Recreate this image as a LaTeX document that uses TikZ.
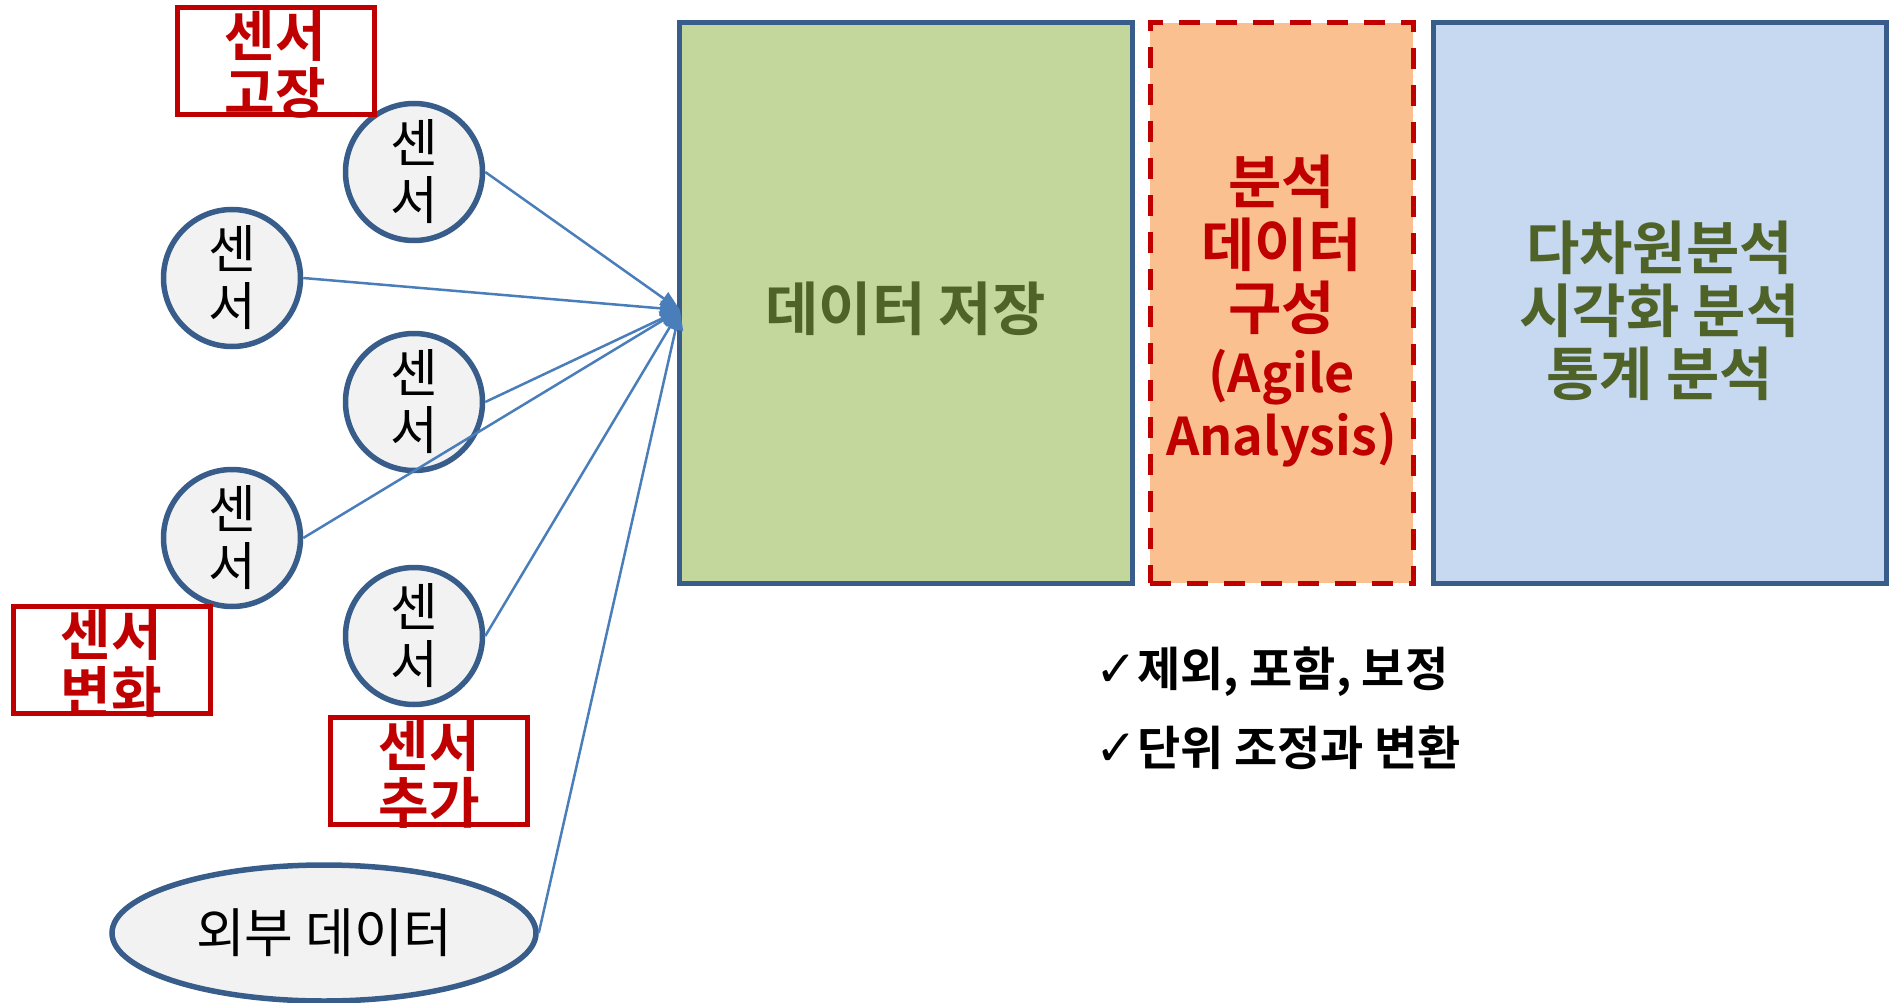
\documentclass[tikz,border=0pt]{standalone}
\usepackage{fontspec}
\setmainfont{Noto Sans CJK KR}[BoldFont={Noto Sans CJK KR Bold}]
\newfontfamily\djv{DejaVu Sans}
\usetikzlibrary{arrows.meta,shapes.geometric}
\definecolor{bordblue}{HTML}{385D8A}
\definecolor{linkblue}{HTML}{4A7EBB}
\definecolor{circfill}{HTML}{F2F2F2}
\definecolor{redtxt}{HTML}{C00000}
\definecolor{greentxt}{HTML}{4F6228}
\definecolor{greenfill}{HTML}{C3D69B}
\definecolor{orangefill}{HTML}{FAC090}
\definecolor{bluefill}{HTML}{C6D9F1}
\tikzset{
  sensor/.style={circle, draw=bordblue, fill=circfill, line width=5.5pt, minimum size=137pt, inner sep=0pt, align=center, font=\fontsize{52}{57}\selectfont},
  redbox/.style={rectangle, draw=redtxt, line width=5pt, minimum width=197pt, minimum height=107pt, inner sep=0pt},
  redtext/.style={align=center, text=redtxt, inner sep=0pt, font=\bfseries\fontsize{55}{57}\selectfont},
  bigbox/.style={rectangle, line width=5pt, minimum height=560pt, inner sep=0pt},
  bigtext/.style={align=center, inner sep=0pt, font=\bfseries\fontsize{58}{63}\selectfont},
  link/.style={draw=linkblue, line width=2.5pt, -{Triangle[length=20pt,width=15pt]}},
  checktxt/.style={anchor=west, inner sep=0pt, font=\bfseries\fontsize{47}{52}\selectfont},
}
\newcommand\chk{{\djv\mdseries\fontsize{50}{52}\selectfont ✓}}
\begin{document}
\begin{tikzpicture}[x=1pt,y=-1pt]
\useasboundingbox (0,0) rectangle (1892,1003);
% big boxes
\node[bigbox, draw=bordblue, fill=greenfill, minimum width=453pt] (store) at (905.5,303) {};
\node[bigbox, draw=redtxt, fill=orangefill, dash pattern=on 21pt off 16pt, minimum width=263pt] (agile) at (1281.5,303) {};
\node[bigbox, draw=bordblue, fill=bluefill, minimum width=453pt] (multi) at (1659.5,303) {};
\node[bigtext, text=greentxt] (storetxt) at (905.5,309) {데이터 저장};
\node[bigtext, text=redtxt] (agiletxt) at (1281.5,311) {분석\\데이터\\구성\\{\fontsize{52}{63}\selectfont(Agile}\\{\fontsize{52}{63}\selectfont Analysis)}};
\node[bigtext, text=greentxt] (multitxt) at (1659.5,311) {다차원분석\\시각화 분석\\통계 분석};
% sensors
\node[sensor] (s1) at (414,172) {센\\서};
\node[sensor] (s2) at (232,278) {센\\서};
\node[sensor] (s3) at (414,402) {센\\서};
\node[sensor] (s4) at (232,538) {센\\서};
\node[sensor] (s5) at (414,636) {센\\서};
\node[ellipse, draw=bordblue, fill=circfill, line width=5.5pt, minimum width=424pt, minimum height=136pt, inner sep=0pt, font=\fontsize{53}{57}\selectfont] (ext) at (324,933) {외부 데이터};
% red labels
\node[redbox] (fail) at (275.5,61.5) {};
\node[redtext] (failtxt) at (275.5,64) {센서\\고장};
\node[redbox] (chg) at (111.5,660) {};
\node[redtext] (chgtxt) at (111.5,663) {센서\\변화};
\node[redbox] (add) at (429,771) {};
\node[redtext] (addtxt) at (429,774) {센서\\추가};
% connectors
\coordinate (hub) at (680,310);
\draw[link] (s1.east) -- (hub);
\draw[link] (s2.east) -- (hub);
\draw[link] (s3.east) -- (hub);
\draw[link] (s4.east) -- (hub);
\draw[link] (s5.east) -- (hub);
\draw[link] (ext.east) -- (hub);
% check list
\node[checktxt] (c1) at (1095,672) {\chk 제외, 포함, 보정};
\node[checktxt] (c2) at (1095,748) {\chk 단위 조정과 변환};
\end{tikzpicture}
\end{document}
